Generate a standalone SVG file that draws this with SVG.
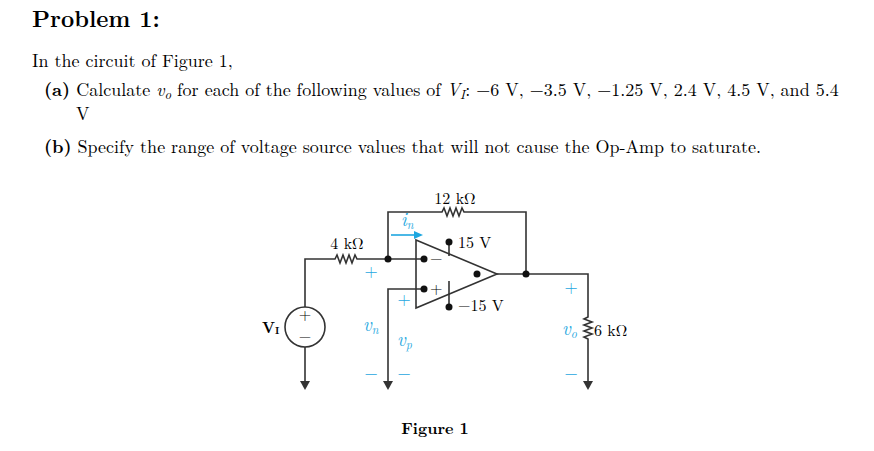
<svg xmlns="http://www.w3.org/2000/svg" width="874" height="451" viewBox="0 0 874 451">
<style>
text{font-family:"Latin Modern Roman","Liberation Serif",serif;fill:#000}
.t{font-size:18px}
.w{fill:none;stroke:#333;stroke-width:1.6}
.b{fill:#1ea7e0;font-size:17px}
.bi{fill:#1ea7e0;font-size:19px;font-style:italic}
.c{font-size:16px}
</style>
<defs><marker id="g" markerWidth="10" markerHeight="10" refX="5" refY="1" orient="0" markerUnits="userSpaceOnUse"><path d="M0,0 L10,0 L5,9 Z" fill="#333"/></marker></defs>
<rect width="874" height="451" fill="#fff"/>
<text x="32" y="27" font-size="23" font-weight="bold">Problem 1:</text>
<text class="t" x="32" y="67">In the circuit of Figure 1,</text>
<text class="t" x="44" y="96"><tspan font-weight="bold">(a)</tspan> Calculate <tspan font-style="italic">v</tspan><tspan font-size="13" dy="3" font-style="italic">o</tspan><tspan dy="-3"> for each of the following values of </tspan><tspan font-style="italic">V</tspan><tspan font-size="13" dy="3" font-style="italic">I</tspan><tspan dy="-3">: −6 V, −3.5 V, −1.25 V, 2.4 V, 4.5 V, and 5.4</tspan></text>
<text class="t" x="76" y="120">V</text>
<text class="t" x="44" y="153"><tspan font-weight="bold">(b)</tspan> Specify the range of voltage source values that will not cause the Op-Amp to saturate.</text>
<g id="connectors">
<path class="w" d="M305,307 V259 H335 l2,-4 3,8 3,-8 3,8 3,-8 3,8 3,-8 2,4 H424"/>
<path class="w" d="M305,347 V382" marker-end="url(#g)"/>
<path class="w" d="M388,259 V212 H442 l2,-4 3,8 3,-8 3,8 3,-8 3,8 3,-8 2,4 H526 V274"/>
<path class="w" d="M424,289 H388 V382" marker-end="url(#g)"/>
<path class="w" d="M497,274 H588 V317 l-4,2 8,3 -8,3 8,3 -8,3 8,3 -8,3 4,2 V382" marker-end="url(#g)"/>
<path class="w" d="M449,242 V256 M449,281 V307"/>
<path d="M391,235 H416" stroke="#1ea7e0" stroke-width="1.6"/><path d="M414,231 L423,235 L414,239 Z" fill="#1ea7e0"/>
</g>
<g id="opamp">
<path class="w" d="M416,240 L497,274 L416,308 Z"/>
<circle cx="424" cy="259" r="3.5" fill="#111"/><circle cx="424" cy="289" r="3.5" fill="#111"/>
<circle cx="477" cy="274" r="3.5" fill="#111"/>
<circle cx="449" cy="242" r="3.5" fill="#111"/><circle cx="449" cy="307" r="3.5" fill="#111"/>
<text class="c" x="430" y="264">−</text><text class="c" x="430" y="294">+</text>
<text class="c" x="458" y="248">15 V</text><text class="c" x="458" y="311">−15 V</text>
</g>
<g id="nodes">
<circle cx="388" cy="259" r="3.5" fill="#111"/><circle cx="526" cy="274" r="3.5" fill="#111"/>
</g>
<g id="source">
<circle class="w" cx="305" cy="327" r="20"/>
<text class="c" x="305" y="320" text-anchor="middle">+</text>
<text class="c" x="305" y="342" text-anchor="middle">−</text>
<text x="262" y="333" font-size="15" font-weight="bold">V<tspan font-size="10" dy="1">I</tspan></text>
</g>
<text class="c" x="455" y="204" text-anchor="middle">12 kΩ</text>
<text class="c" x="347" y="249" text-anchor="middle">4 kΩ</text>
<text class="c" x="594" y="336">6 kΩ</text>
<text class="bi" x="401" y="226">i<tspan font-size="12" dy="3">n</tspan></text>
<text class="b" x="371" y="277" text-anchor="middle">+</text>
<text class="b" x="404" y="305" text-anchor="middle">+</text>
<text class="bi" x="363" y="331">v<tspan font-size="12" dy="3">n</tspan></text>
<text class="bi" x="397" y="346">v<tspan font-size="12" dy="3">p</tspan></text>
<text class="b" x="371" y="379" text-anchor="middle">−</text>
<text class="b" x="404" y="379" text-anchor="middle">−</text>
<text class="b" x="571" y="293" text-anchor="middle">+</text>
<text class="bi" x="562" y="335">v<tspan font-size="12" dy="3">o</tspan></text>
<text class="b" x="571" y="379" text-anchor="middle">−</text>
<text x="435" y="434" font-size="16" font-weight="bold" text-anchor="middle">Figure 1</text>
</svg>
